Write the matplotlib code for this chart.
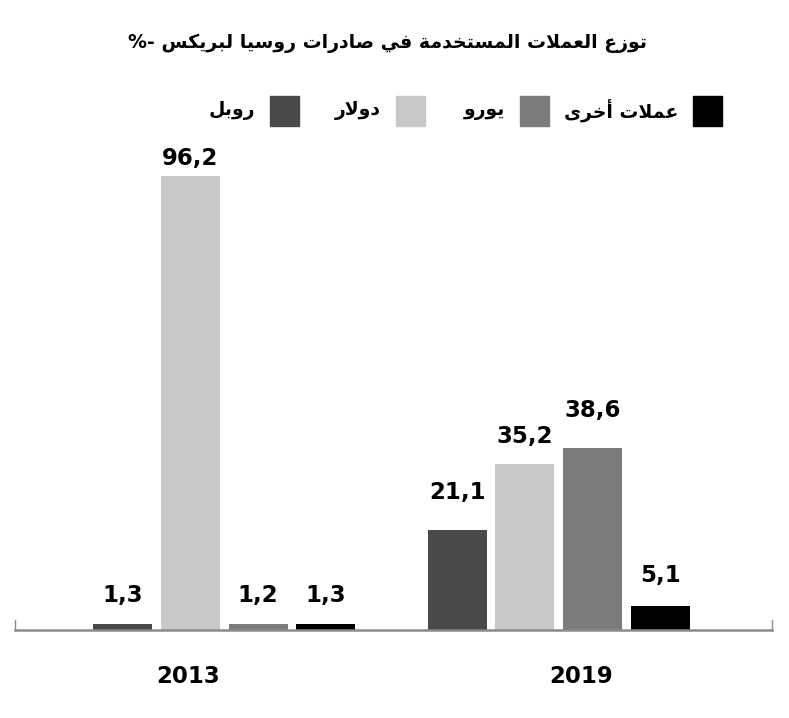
import matplotlib
matplotlib.use("Agg")
import matplotlib.pyplot as plt
from matplotlib.patches import Rectangle
import numpy as np

# ---------------- data ----------------
years = ["2013", "2019"]
series_names = ["روبل", "دولار", "يورو", "عملات أخرى"]
ruble = [1.3, 21.1]
dollar = [96.2, 35.2]
euro = [1.2, 38.6]
others = [1.3, 5.1]
title_text = "توزع العملات المستخدمة في صادرات روسيا لبريكس -%"

# styles
colors = ["#49494b", "#c8c8ca", "#7b7b7e", "#000000"]
# gap (pixels) between bar top and value label, per series and year
label_gap = [[17, 26], [6, 16], [17, 26], [17, 19]]

# ---------------- simple Arabic shaping ----------------
FORMS = {
    '\u0627': ('\uFE8D', '\uFE8E', None, None),
    '\u0623': ('\uFE83', '\uFE84', None, None),
    '\u0628': ('\uFE8F', '\uFE90', '\uFE91', '\uFE92'),
    '\u0629': ('\uFE93', '\uFE94', None, None),
    '\u062A': ('\uFE95', '\uFE96', '\uFE97', '\uFE98'),
    '\u062D': ('\uFEA1', '\uFEA2', '\uFEA3', '\uFEA4'),
    '\u062E': ('\uFEA5', '\uFEA6', '\uFEA7', '\uFEA8'),
    '\u062F': ('\uFEA9', '\uFEAA', None, None),
    '\u0631': ('\uFEAD', '\uFEAE', None, None),
    '\u0632': ('\uFEAF', '\uFEB0', None, None),
    '\u0633': ('\uFEB1', '\uFEB2', '\uFEB3', '\uFEB4'),
    '\u0635': ('\uFEB9', '\uFEBA', '\uFEBB', '\uFEBC'),
    '\u0639': ('\uFEC9', '\uFECA', '\uFECB', '\uFECC'),
    '\u0641': ('\uFED1', '\uFED2', '\uFED3', '\uFED4'),
    '\u0643': ('\uFED9', '\uFEDA', '\uFEDB', '\uFEDC'),
    '\u0644': ('\uFEDD', '\uFEDE', '\uFEDF', '\uFEE0'),
    '\u0645': ('\uFEE1', '\uFEE2', '\uFEE3', '\uFEE4'),
    '\u0648': ('\uFEED', '\uFEEE', None, None),
    '\u0649': ('\uFEEF', '\uFEF0', None, None),
    '\u064A': ('\uFEF1', '\uFEF2', '\uFEF3', '\uFEF4'),
}
LAM_ALEF = {'\u0627': ('\uFEFB', '\uFEFC', None, None),
            '\u0623': ('\uFEF7', '\uFEF8', None, None)}


def shape(text):
    chars = list(text)
    tokens = []
    i = 0
    while i < len(chars):
        c = chars[i]
        if c == '\u0644' and i + 1 < len(chars) and chars[i + 1] in LAM_ALEF:
            tokens.append(('LA', LAM_ALEF[chars[i + 1]]))
            i += 2
        else:
            tokens.append((c, FORMS.get(c)))
            i += 1
    res = []
    for k, (c, f) in enumerate(tokens):
        if f is None:
            res.append(c)
            continue
        prev = tokens[k - 1][1] if k > 0 else None
        nxt = tokens[k + 1][1] if k + 1 < len(tokens) else None
        jp = prev is not None and prev[2] is not None
        jn = nxt is not None and f[2] is not None
        if jp and jn:
            form = f[3]
        elif jp:
            form = f[1]
        elif jn:
            form = f[2]
        else:
            form = f[0]
        res.append(form)
    return ''.join(res)[::-1]


NUMFONT = 'DejaVu Sans'
ARFONT = ['DejaVu Sans']

# ---------------- figure ----------------
W, H = 789, 718
fig = plt.figure(figsize=(W / 100, H / 100), dpi=100)

px_per_unit = 4.72
base_y = 630
ymax = 100
ax_left, ax_right = 15, 772
ax_top = base_y - ymax * px_per_unit
ax = fig.add_axes([ax_left / W, (H - base_y) / H,
                   (ax_right - ax_left) / W, (base_y - ax_top) / H])

group_px = 334.0
step = 67.5 / group_px
width = 59 / group_px
x = np.arange(len(years))
all_series = [ruble, dollar, euro, others]
for j, vals in enumerate(all_series):
    pos = x + (j - 1.5) * step
    bars = ax.bar(pos, vals, width=width, color=colors[j], zorder=2)
    for k, (b, v) in enumerate(zip(bars, vals)):
        ax.annotate(("%.1f" % v).replace('.', ','),
                    (b.get_x() + b.get_width() / 2, v),
                    xytext=(0, label_gap[j][k] * 0.72), textcoords='offset points',
                    ha='center', va='bottom', fontsize=16.5, fontweight='bold',
                    family=NUMFONT, color='black')

ax.set_xlim(-(224 - ax_left) / group_px, 1 + (ax_right - 559) / group_px)
ax.set_ylim(0, ymax)
for s in ['top', 'right', 'left']:
    ax.spines[s].set_visible(False)
ax.spines['bottom'].set_color('#8a8a8a')
ax.spines['bottom'].set_linewidth(1.8)
ax.set_yticks([])
ax.set_xticks([-36 / group_px, 1 + 22 / group_px])
ax.set_xticklabels(years, fontsize=16.5, fontweight='bold', family=NUMFONT)
ax.tick_params(axis='x', length=0, pad=25)

# small end ticks
for xe in ax.get_xlim():
    ax.plot([xe, xe], [0, 2.2], color='#8a8a8a', lw=1, clip_on=False)

# title
fig.text(387 / W, 1 - 43 / H, shape(title_text), ha='center', va='center',
         fontsize=13.6, fontweight='bold', family=ARFONT)

# legend (RTL: box on the right of the label)
box_lefts = [270, 396, 520, 693]
for j, bl in enumerate(box_lefts):
    fig.patches.append(Rectangle((bl / W, 1 - 126 / H), 29 / W, 30 / H,
                                 transform=fig.transFigure, color=colors[j]))
    fig.text((bl - 15) / W, 1 - 110 / H, shape(series_names[j]), ha='right',
             va='center', fontsize=13.5, fontweight='bold', family=ARFONT)

fig.savefig("out.png", dpi=100)
